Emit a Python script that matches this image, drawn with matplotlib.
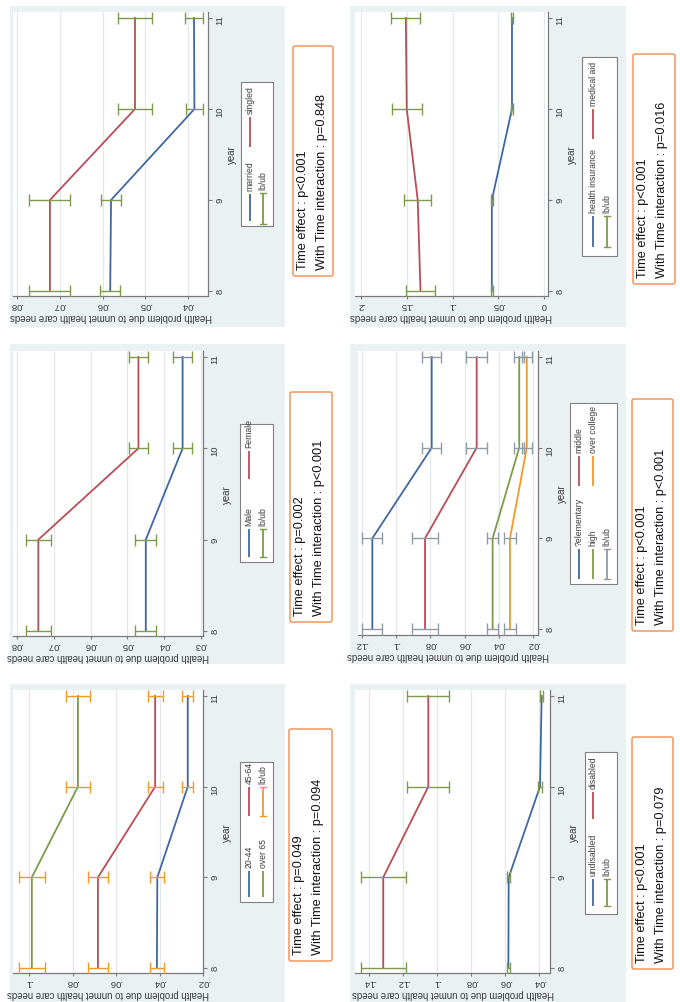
import matplotlib
matplotlib.use('Agg')
import matplotlib.pyplot as plt
from matplotlib.patches import Rectangle, FancyBboxPatch

W, H, DPI = 680, 1003, 100
plt.rcParams['font.family'] = ['Liberation Sans', 'DejaVu Sans']

# ---------------- data ----------------
years = [8, 9, 10, 11]

married = [0.0582, 0.0580, 0.0385, 0.0386]
married_err = [0.0024, 0.0024, 0.0020, 0.0020]
singled = [0.0723, 0.0723, 0.0524, 0.0524]
singled_err = [0.0048, 0.0048, 0.0040, 0.0040]

male = [0.0450, 0.0450, 0.0350, 0.0350]
male_err = [0.0029, 0.0029, 0.0026, 0.0026]
female = [0.0742, 0.0742, 0.0470, 0.0470]
female_err = [0.0034, 0.0034, 0.0027, 0.0027]

age_20_44 = [0.0412, 0.0410, 0.0270, 0.0270]
age_20_44_err = [0.0032, 0.0032, 0.0026, 0.0026]
age_45_64 = [0.0683, 0.0683, 0.0420, 0.0420]
age_45_64_err = [0.0044, 0.0044, 0.0035, 0.0035]
age_over65 = [0.0987, 0.0987, 0.0775, 0.0775]
age_over65_err = [0.0060, 0.0060, 0.0057, 0.0057]

insurance = [0.057, 0.057, 0.035, 0.035]
insurance_err = [0.0012, 0.0012, 0.0012, 0.0012]
medical_aid = [0.135, 0.138, 0.150, 0.151]
medical_aid_err = [0.016, 0.015, 0.0164, 0.016]

elementary = [0.1138, 0.1138, 0.0792, 0.0792]
elementary_err = [0.0058, 0.0058, 0.0055, 0.0055]
middle = [0.0831, 0.0831, 0.0530, 0.0530]
middle_err = [0.0075, 0.0075, 0.0060, 0.0060]
high = [0.0437, 0.0437, 0.0282, 0.0282]
high_err = [0.0030, 0.0030, 0.0028, 0.0028]
college = [0.0336, 0.0336, 0.0238, 0.0238]
college_err = [0.0035, 0.0035, 0.0028, 0.0028]

undisabled = [0.0582, 0.0580, 0.0396, 0.0386]
undisabled_err = [0.0010, 0.0010, 0.0010, 0.0010]
disabled = [0.1318, 0.1318, 0.1053, 0.1053]
disabled_err = [0.0133, 0.0133, 0.0123, 0.0123]

ticks_A = [0.04, 0.05, 0.06, 0.07, 0.08]
labels_A = ['.04', '.05', '.06', '.07', '.08']
ticks_B = [0.03, 0.04, 0.05, 0.06, 0.07, 0.08]
labels_B = ['.03', '.04', '.05', '.06', '.07', '.08']
ticks_C = [0.02, 0.04, 0.06, 0.08, 0.1]
labels_C = ['.02', '.04', '.06', '.08', '.1']
ticks_D = [0, 0.05, 0.1, 0.15, 0.2]
labels_D = ['0', '.05', '.1', '.15', '.2']
ticks_E = [0.02, 0.04, 0.06, 0.08, 0.1, 0.12]
labels_E = ['.02', '.04', '.06', '.08', '.1', '.12']
ticks_F = [0.04, 0.06, 0.08, 0.1, 0.12, 0.14]
labels_F = ['.04', '.06', '.08', '.1', '.12', '.14']
year_labels = ['8', '9', '10', '11']

text_A = ['Time effect : p<0.001', 'With Time interaction : p=0.848']
text_B = ['Time effect : p=0.002', 'With Time interaction : p<0.001']
text_C = ['Time effect : p=0.049', 'With Time interaction : p=0.094']
text_D = ['Time effect : p<0.001', 'With Time interaction : p=0.016']
text_E = ['Time effect : p<0.001', 'With Time interaction : p<0.001']
text_F = ['Time effect : p<0.001', 'With Time interaction : p=0.079']

YLABEL = 'Health problem due to unmet health care needs'

# ---------------- styles ----------------
BLUE = '#4068a0'
RED = '#b84d56'
GREEN = '#7d9b4a'
ORANGE = '#f29a26'
GRAYERR = '#8f9ba6'
BG = '#e9f1f3'
AXC = '#7a7a7a'
GRID = '#e3e8ea'
BOXC = '#f2945c'
TXT = '#3a3a3a'

fig = plt.figure(figsize=(W / DPI, H / DPI), dpi=DPI)
fig.patch.set_facecolor('white')

bg = fig.add_axes([0, 0, 1, 1], zorder=0)
bg.set_xlim(0, W); bg.set_ylim(H, 0); bg.axis('off')
fg = fig.add_axes([0, 0, 1, 1], zorder=3)
fg.set_xlim(0, W); fg.set_ylim(H, 0); fg.axis('off')
fg.patch.set_alpha(0)


def px_axes(box):
    x0, y0, x1, y1 = box
    return fig.add_axes([x0 / W, 1 - y1 / H, (x1 - x0) / W, (y1 - y0) / H], zorder=1)


def panel(p):
    x0, y0, x1, y1 = p['bg']
    bg.add_patch(Rectangle((x0, y0), x1 - x0, y1 - y0, fc=BG, ec='none'))
    ax = px_axes(p['plot'])
    ax.set_facecolor('white')
    for vals, errs, col in p['series']:
        ax.plot(vals, years, color=col, lw=1.3, zorder=3)
    for vals, errs, col in p['series']:
        ax.errorbar(vals, years, xerr=errs, fmt='none', ecolor=p['errcol'],
                    elinewidth=1.0, capsize=4, capthick=1.0, zorder=4)
    # scales from tick pixel positions
    va, pa, vb, pb = p['vmap']
    s = (pb - pa) / (vb - va)
    px0, py0, px1, py1 = p['plot']
    ax.set_xlim(va + (px0 - pa) / s, va + (px1 - pa) / s)
    ya, qa, yb, qb = p['ymap']
    t = (qb - qa) / (yb - ya)
    ax.set_ylim(ya + (py1 - qa) / t, ya + (py0 - qa) / t)
    ax.set_xticks(p['ticks'], p['labels'])
    ax.set_yticks(years, year_labels)
    ax.yaxis.tick_right()
    ax.yaxis.set_label_position('right')
    ax.grid(axis='x', color=GRID, lw=0.9)
    ax.set_axisbelow(True)
    for side in ['top', 'left']:
        ax.spines[side].set_visible(False)
    for side in ['bottom', 'right']:
        ax.spines[side].set_color(AXC)
        ax.spines[side].set_linewidth(0.9)
    ax.tick_params(axis='x', direction='out', length=2.5, width=0.8, color=AXC,
                   labelsize=6.8, labelrotation=180, pad=0.5, labelcolor=TXT)
    ax.tick_params(axis='y', direction='out', length=3, width=0.8, color=AXC,
                   labelsize=6.8, labelrotation=90, pad=2.5, labelcolor=TXT)
    ax.set_xlabel(YLABEL, rotation=180, fontsize=6.9, color=TXT, labelpad=1)
    ax.set_ylabel('year', rotation=90, fontsize=6.9, color=TXT, labelpad=2)
    # legend
    lx0, ly0, lx1, ly1 = p['legbox']
    fg.add_patch(Rectangle((lx0, ly0), lx1 - lx0, ly1 - ly0, fc='white', ec='#808080', lw=0.8))
    for kind, col, x, sy0, sy1, lab in p['legend']:
        fg.plot([x, x], [sy0, sy1], color=col, lw=1.3, solid_capstyle='butt')
        if kind == 'err':
            fg.plot([x - 3, x + 3], [sy0, sy0], color=col, lw=1)
            fg.plot([x - 3, x + 3], [sy1, sy1], color=col, lw=1)
        fg.text(x, sy0 - 4, lab, rotation=90, rotation_mode='anchor', ha='left',
                va='center', fontsize=6.2, color=TXT)
    # text box
    bx0, by0, bx1, by1 = p['tbox']
    fg.add_patch(FancyBboxPatch((bx0, by0), bx1 - bx0, by1 - by0,
                                boxstyle='round,pad=0,rounding_size=2',
                                fc='white', ec=BOXC, lw=1.1))
    fg.text(bx0 + 10, by1 - 7, p['text'][0], rotation=90, rotation_mode='anchor',
            ha='left', va='center', fontsize=9.2, color='#111111')
    fg.text(bx0 + 29, by1 - 7, p['text'][1], rotation=90, rotation_mode='anchor',
            ha='left', va='center', fontsize=9.2, color='#111111')


panels = [
    dict(bg=(10, 7, 285, 328), plot=(13, 13, 208, 297),
         vmap=(0.08, 17, 0.04, 188), ymap=(8, 292, 11, 19),
         ticks=ticks_A, labels=labels_A, errcol=GREEN,
         series=[(married, married_err, BLUE), (singled, singled_err, RED)],
         legbox=(241, 83, 273, 227),
         legend=[('line', BLUE, 250, 195, 222, 'married'),
                 ('line', RED, 250, 118, 148, 'singled'),
                 ('err', GREEN, 263, 194, 225, 'lb/ub')],
         tbox=(293, 47, 333, 277), text=text_A),
    dict(bg=(10, 345, 285, 665), plot=(13, 352, 203, 637),
         vmap=(0.08, 17, 0.03, 201), ymap=(8, 632, 11, 358),
         ticks=ticks_B, labels=labels_B, errcol=GREEN,
         series=[(male, male_err, BLUE), (female, female_err, RED)],
         legbox=(240, 425, 273, 563),
         legend=[('line', BLUE, 249, 530, 558, 'Male'),
                 ('line', RED, 249, 452, 480, 'Female'),
                 ('err', GREEN, 263, 530, 558, 'lb/ub')],
         tbox=(290, 393, 332, 623), text=text_B),
    dict(bg=(10, 685, 285, 1003), plot=(13, 691, 203, 974),
         vmap=(0.1, 29, 0.02, 203), ymap=(8, 969, 11, 697),
         ticks=ticks_C, labels=labels_C, errcol=ORANGE,
         series=[(age_20_44, age_20_44_err, BLUE), (age_45_64, age_45_64_err, RED),
                 (age_over65, age_over65_err, GREEN)],
         legbox=(240, 763, 273, 903),
         legend=[('line', BLUE, 249, 872, 898, '20-44'),
                 ('line', RED, 249, 788, 817, '45-64'),
                 ('line', GREEN, 263, 872, 898, 'over 65'),
                 ('err', ORANGE, 263, 788, 817, 'lb/ub')],
         tbox=(289, 730, 332, 962), text=text_C),
    dict(bg=(350, 7, 626, 328), plot=(355, 13, 548, 297),
         vmap=(0.2, 361, 0.0, 544), ymap=(8, 292, 11, 19),
         ticks=ticks_D, labels=labels_D, errcol=GREEN,
         series=[(insurance, insurance_err, BLUE), (medical_aid, medical_aid_err, RED)],
         legbox=(582, 58, 617, 257),
         legend=[('line', BLUE, 593, 217, 248, 'health insurance'),
                 ('line', RED, 593, 110, 140, 'medical aid'),
                 ('err', GREEN, 607, 217, 248, 'lb/ub')],
         tbox=(633, 55, 675, 285), text=text_D),
    dict(bg=(350, 345, 626, 665), plot=(358, 352, 538, 636),
         vmap=(0.12, 361.7, 0.02, 533.3), ymap=(8, 630, 11, 358),
         ticks=ticks_E, labels=labels_E, errcol=GRAYERR,
         series=[(elementary, elementary_err, BLUE), (middle, middle_err, RED),
                 (high, high_err, GREEN), (college, college_err, ORANGE)],
         legbox=(570, 404, 617, 585),
         legend=[('line', BLUE, 579, 550, 580, '?elementary'),
                 ('line', RED, 579, 457, 487, 'middle'),
                 ('line', GREEN, 593, 550, 580, 'high'),
                 ('line', ORANGE, 593, 457, 487, 'over college'),
                 ('err', GRAYERR, 607, 550, 580, 'lb/ub')],
         tbox=(632, 400, 673, 632), text=text_E),
    dict(bg=(350, 685, 626, 1003), plot=(355, 691, 550, 974),
         vmap=(0.14, 369.3, 0.04, 539.3), ymap=(8, 969, 11, 697),
         ticks=ticks_F, labels=labels_F, errcol=GREEN,
         series=[(undisabled, undisabled_err, BLUE), (disabled, disabled_err, RED)],
         legbox=(585, 753, 617, 915),
         legend=[('line', BLUE, 593, 880, 907, 'undisabled'),
                 ('line', RED, 593, 793, 820, 'disabled'),
                 ('err', GREEN, 607, 880, 907, 'lb/ub')],
         tbox=(632, 738, 673, 970), text=text_F),
]

for p in panels:
    panel(p)

fig.savefig('out.png', dpi=DPI, facecolor='white')
